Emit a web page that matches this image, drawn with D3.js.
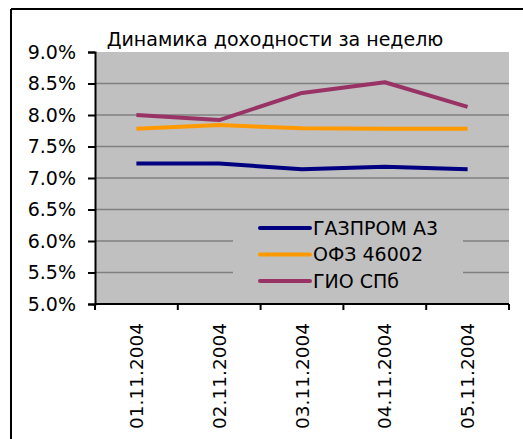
<!DOCTYPE html>
<html>
<head>
<meta charset="utf-8">
<script src="https://cdn.jsdelivr.net/npm/d3@7"></script>
<style>
  html, body { margin: 0; padding: 0; background: #ffffff; }
  svg { display: block; }
  text { font-family: "DejaVu Sans", Verdana, sans-serif; fill: #000; }
</style>
</head>
<body>
<script>
// ---- data ----
const title = "Динамика доходности за неделю";
const dates = ["01.11.2004", "02.11.2004", "03.11.2004", "04.11.2004", "05.11.2004"];
const seriesNames = ["ГАЗПРОМ А3", "ОФЗ 46002", "ГИО СПб"];
const gazprom = [0.0723, 0.0723, 0.0714, 0.0718, 0.0714];
const ofz = [0.0778, 0.0784, 0.0779, 0.0778, 0.0778];
const gio = [0.0800, 0.0792, 0.0835, 0.0852, 0.0813];
const yTicks = [0.05, 0.055, 0.06, 0.065, 0.07, 0.075, 0.08, 0.085, 0.09];
const seriesColors = ["#000080", "#FF9900", "#993366"];

const series = [gazprom, ofz, gio].map((v, i) => ({ name: seriesNames[i], values: v, color: seriesColors[i] }));

// ---- layout ----
const W = 523, H = 439;
const plot = { left: 95, right: 509, top: 52, bottom: 304 };

const svg = d3.select("body").append("svg").attr("width", W).attr("height", H);

// outer chart border (left + top visible)
svg.append("line").attr("x1", 11).attr("x2", W).attr("y1", 9).attr("y2", 9)
  .attr("stroke", "#000").attr("stroke-width", 2);
svg.append("line").attr("x1", 11).attr("x2", 11).attr("y1", 9).attr("y2", H)
  .attr("stroke", "#000").attr("stroke-width", 2);

const x = d3.scaleBand().domain(dates).range([plot.left, plot.right]);
const y = d3.scaleLinear().domain([0.05, 0.09]).range([plot.bottom, plot.top]);

// plot background
svg.append("rect").attr("x", plot.left).attr("y", plot.top)
  .attr("width", plot.right - plot.left).attr("height", plot.bottom - plot.top)
  .attr("fill", "#C0C0C0");

// gridlines
svg.append("g").selectAll("line").data(yTicks.filter(t => t > 0.05 && t < 0.09)).join("line")
  .attr("x1", plot.left).attr("x2", plot.right)
  .attr("y1", d => y(d)).attr("y2", d => y(d))
  .attr("stroke", "#808080").attr("stroke-width", 1.6);

// y axis
const yAxis = d3.axisLeft(y).tickValues(yTicks).tickFormat(d3.format(".1%")).tickSize(7).tickPadding(12);
const gy = svg.append("g").attr("transform", `translate(${plot.left},0)`).call(yAxis);
gy.select(".domain").attr("stroke", "#000").attr("stroke-width", 2);
gy.selectAll(".tick line").attr("stroke", "#000").attr("stroke-width", 2);
gy.selectAll(".tick text").style("font-size", "19px").style("font-family", "DejaVu Sans").attr("fill", "#000");

// x axis: ticks at band boundaries
const gx = svg.append("g").attr("transform", `translate(0,${plot.bottom})`);
gx.append("line").attr("x1", plot.left).attr("x2", plot.right).attr("y1", 0).attr("y2", 0)
  .attr("stroke", "#000").attr("stroke-width", 2);
const boundaries = dates.map(d => x(d)).concat([x(dates[dates.length - 1]) + x.bandwidth()]);
gx.selectAll("line.tk").data(boundaries).join("line").attr("class", "tk")
  .attr("x1", d => d).attr("x2", d => d).attr("y1", 0).attr("y2", 6)
  .attr("stroke", "#000").attr("stroke-width", 2);
gx.selectAll("text").data(dates).join("text")
  .attr("transform", d => `translate(${x(d) + x.bandwidth() / 2},19) rotate(-90)`)
  .attr("text-anchor", "end").attr("dy", "0.36em")
  .style("font-size", "18.5px")
  .text(d => d);

// lines
const line = d3.line().x((d, i) => x(dates[i]) + x.bandwidth() / 2).y(d => y(d));
svg.append("g").selectAll("path").data(series).join("path")
  .attr("d", d => line(d.values))
  .attr("fill", "none").attr("stroke", d => d.color).attr("stroke-width", 4)
  .attr("stroke-linejoin", "round");

// title
svg.append("text").attr("x", 275).attr("y", 46).attr("text-anchor", "middle")
  .style("font-size", "19px").text(title);

// legend
const lg = svg.append("g");
lg.append("rect").attr("x", 233).attr("y", 213).attr("width", 230).attr("height", 84).attr("fill", "#C0C0C0");
const ly = d3.scalePoint().domain(seriesNames).range([228, 281]);
const items = lg.selectAll("g").data(series).join("g").attr("transform", d => `translate(0,${ly(d.name)})`);
items.append("line").attr("x1", 260).attr("x2", 310).attr("y1", 0).attr("y2", 0)
  .attr("stroke", d => d.color).attr("stroke-width", 4).attr("stroke-linecap", "round");
items.append("text").attr("x", 313).attr("dy", "0.36em").style("font-size", "19px").text(d => d.name);
</script>
</body>
</html>
